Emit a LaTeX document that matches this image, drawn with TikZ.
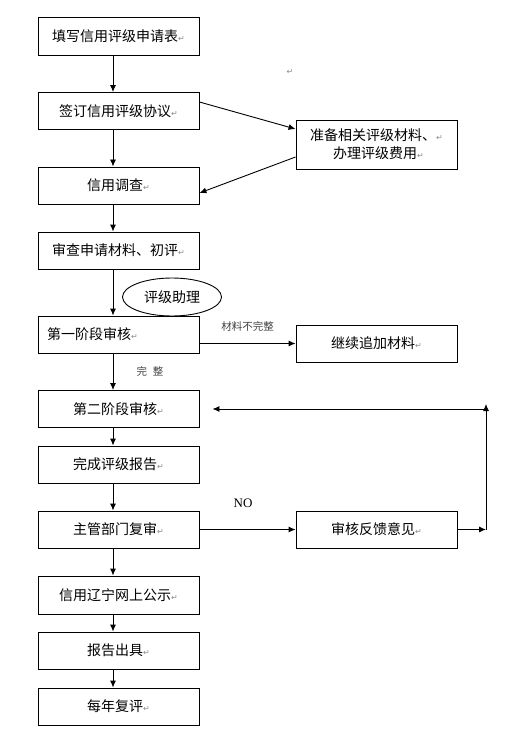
\documentclass[tikz,border=0pt]{standalone}
\usepackage{fontspec}
\newfontfamily\cjk{Noto Sans CJK SC}
\newfontfamily\symfont{DejaVu Sans}
\setmainfont{Liberation Serif}
\usetikzlibrary{arrows.meta,shapes.geometric}
\newcommand{\pmark}{{\symfont\fontsize{8}{8}\selectfont\color{black!45}↵}}
\begin{document}
\begin{tikzpicture}[x=1pt,y=-1pt]
	\useasboundingbox (0,0) rectangle (508,738);

	\colorlet{box edge}{black}
	\colorlet{note text}{black!75}

	\tikzset{
		stepbox/.style={draw=box edge, line width=0.9pt, minimum width=161pt, minimum height=37pt, inner sep=0pt, font=\cjk\fontsize{14}{18}\selectfont, align=center},
		arr/.style={line width=0.9pt, -{Latex[length=7pt,width=6pt]}},
		note/.style={font=\cjk\fontsize{10.5}{12}\selectfont, text=note text},
	}

	% main column
	\node[stepbox, minimum height=38pt] (apply) at (118.5,36) {填写信用评级申请表\pmark};
	\node[stepbox] (sign) at (118.5,111) {签订信用评级协议\pmark};
	\node[stepbox] (survey) at (118.5,185.5) {信用调查\pmark};
	\node[stepbox] (check) at (118.5,250.5) {审查申请材料、初评\pmark};
	\node[stepbox, text width=143pt, inner xsep=9pt, align=left] (stageA) at (118.5,334.5) {第一阶段审核\pmark};
	\node[stepbox] (stageB) at (118.5,409) {第二阶段审核\pmark};
	\node[stepbox] (report) at (118.5,464.5) {完成评级报告\pmark};
	\node[stepbox] (recheck) at (118.5,529.5) {主管部门复审\pmark};
	\node[stepbox, minimum height=38pt] (publish) at (118.5,595) {信用辽宁网上公示\pmark};
	\node[stepbox] (issue) at (118.5,650.5) {报告出具\pmark};
	\node[stepbox] (annual) at (118.5,706.5) {每年复评\pmark};

	% side boxes
	\node[stepbox, minimum height=49pt] (prep) at (376.5,144.5) {准备相关评级材料、\pmark\\\hspace{4pt}办理评级费用\pmark};
	\node[stepbox] (addmat) at (376.5,343.5) {继续追加材料\pmark};
	\node[stepbox] (feedback) at (376.5,529.5) {审核反馈意见\pmark};

	\node[draw, line width=0.9pt, ellipse, minimum width=99pt, minimum height=38pt, inner sep=0pt, font=\cjk\fontsize{14}{16}\selectfont] (assist) at (172,297) {评级助理};

	\node (stray) at (290,72) {\pmark};

	\foreach \a/\b in {apply/sign, sign/survey, survey/check, check/stageA, stageA/stageB, stageB/report, report/recheck, recheck/publish, publish/issue, issue/annual}
		\draw[arr] ([xshift=-5.5]\a.south) -- ([xshift=-5.5]\b.north);

	\draw[arr] ([yshift=9]sign.east) -- ([yshift=15.5]prep.west);
	\draw[arr] ([yshift=-12.5]prep.west) -- ([yshift=-7.5]survey.east);

	\draw[arr] (addmat.west -| stageA.east) -- (addmat.west) node[note, pos=0.5, above=8pt] (lackA) {材料不完整};
	\node[note] (fullA) at (150,371) {完\hspace{6pt}整};

	% feedback loop
	\coordinate (turn) at (486,529.5);
	\coordinate (top) at (486,404);
	\coordinate (back) at (486,409);
	\draw[arr] (recheck.east) -- (feedback.west);
	\node[font=\fontsize{13}{15}\selectfont] (no) at (243,503) {NO};
	\draw[arr] (feedback.east) -- (turn);
	\draw[arr] (turn) -- (top);
	\draw[arr] (back) -- ([xshift=13]stageB.east);
\end{tikzpicture}
\end{document}
